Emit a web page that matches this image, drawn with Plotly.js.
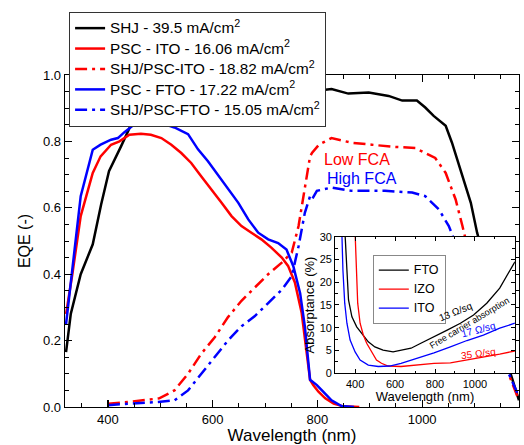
<!DOCTYPE html>
<html>
<head>
<meta charset="utf-8">
<script src="https://cdn.plot.ly/plotly-3.0.1.min.js"></script>
<style>html,body{margin:0;padding:0;background:#fff;}#chart{width:524px;height:445px;}</style>
</head>
<body>
<div id="chart"></div>
<script>
// Main EQE data
const shjX = [320,329,348,371,387,402,425,447,470,500,550,600,650,700,750,811,827,859,898,936,962,990,1006,1022,1045,1057,1073,1093,1105,1130,1150,1165,1185];
const shjY = [0.165,0.28,0.40,0.49,0.61,0.71,0.785,0.86,0.90,0.925,0.94,0.945,0.95,0.95,0.955,0.955,0.958,0.944,0.947,0.937,0.923,0.923,0.902,0.877,0.847,0.796,0.716,0.615,0.525,0.38,0.25,0.12,0.02];

const pscItoX = [320,332,348,371,386,406,422,441,463,482,502,521,540,559,578,598,617,636,655,674,693,712,732,744,757,770,780,786,792,802,815,831,850,880];
const pscItoY = [0.28,0.40,0.575,0.705,0.755,0.79,0.80,0.82,0.823,0.82,0.81,0.79,0.765,0.735,0.695,0.655,0.615,0.575,0.545,0.525,0.505,0.48,0.45,0.425,0.375,0.283,0.162,0.082,0.066,0.046,0.026,0.01,0.002,0];

const tandemItoX = [400,438,498,527,553,578,604,629,655,680,706,732,751,764,776,786,790,803,827,865,904,942,987,1006,1025,1045,1064,1077,1090,1110,1140,1165,1185];
const tandemItoY = [0.01,0.015,0.026,0.05,0.10,0.16,0.21,0.27,0.32,0.36,0.40,0.435,0.465,0.545,0.665,0.755,0.766,0.79,0.81,0.796,0.79,0.784,0.78,0.766,0.75,0.705,0.625,0.545,0.46,0.35,0.21,0.10,0.02];

const pscFtoX = [320,332,348,371,386,406,419,431,447,466,486,502,527,553,572,591,610,629,649,668,687,706,725,741,754,767,776,786,799,811,827,846,870];
const pscFtoY = [0.25,0.42,0.635,0.775,0.79,0.805,0.81,0.827,0.847,0.857,0.86,0.855,0.842,0.822,0.776,0.74,0.70,0.66,0.615,0.565,0.525,0.505,0.494,0.474,0.424,0.343,0.243,0.082,0.066,0.046,0.02,0.003,0];

const tandemFtoX = [400,438,496,527,553,578,604,629,655,680,706,732,751,764,776,786,790,799,827,865,929,981,1006,1032,1051,1070,1100,1130,1160,1185];
const tandemFtoY = [0.005,0.01,0.015,0.02,0.05,0.10,0.15,0.20,0.243,0.273,0.313,0.353,0.394,0.484,0.585,0.635,0.626,0.651,0.661,0.651,0.651,0.646,0.635,0.595,0.545,0.47,0.35,0.24,0.12,0.03];

// Inset absorptance data
const ftoX = [348,351,359,367,384,408,441,466,499,540,590,631,680,729,795,861,927,993,1059,1124,1200];
const ftoY = [32,30,22.7,16.1,12.4,10.2,8.4,6.9,5.8,5.1,4.7,5.0,5.5,6.6,8.0,9.5,11.0,12.8,15.4,18.7,24.5];
const izoX = [399,405,413,425,441,458,482,507,532,565,630,713,795,877,960,1042,1124,1200];
const izoY = [32,22.7,15.4,11,8.4,6.6,4.7,2.9,2.2,1.6,1.5,1.8,2.2,2.3,2.9,3.5,4.2,4.9];
const itoX = [333,339,348,359,375,400,425,466,516,573,630,713,795,877,960,1042,1124,1200];
const itoY = [32,22.7,15.4,11,7.3,4.7,2.9,1.8,1.5,1.6,2.2,3.3,4.5,5.8,7.2,8.4,9.9,11];

const legendNames = [
  'SHJ - 39.5 mA/cm<sup>2</sup>',
  'PSC - ITO - 16.06 mA/cm<sup>2</sup>',
  'SHJ/PSC-ITO - 18.82 mA/cm<sup>2</sup>',
  'PSC - FTO - 17.22 mA/cm<sup>2</sup>',
  'SHJ/PSC-FTO - 15.05 mA/cm<sup>2</sup>'
];
const insetNames = ['FTO','IZO','ITO'];

const big = s => '<span style="font-size:15.3px">' + s + '</span>';
const DD = '12px,5px,3px,5px';
const traces = [
  {x: shjX, y: shjY, name: big(legendNames[0]), line:{color:'#000000', width:2.5}},
  {x: pscItoX, y: pscItoY, name: big(legendNames[1]), line:{color:'#ff0000', width:2.5}},
  {x: tandemItoX, y: tandemItoY, name: big(legendNames[2]), line:{color:'#ff0000', width:2.5, dash:DD}},
  {x: pscFtoX, y: pscFtoY, name: big(legendNames[3]), line:{color:'#0000ff', width:2.5}},
  {x: tandemFtoX, y: tandemFtoY, name: big(legendNames[4]), line:{color:'#0000ff', width:2.5, dash:DD}},
  {x: ftoX, y: ftoY, name: insetNames[0], xaxis:'x2', yaxis:'y2', legend:'legend2', line:{color:'#000000', width:1.3}},
  {x: izoX, y: izoY, name: insetNames[1], xaxis:'x2', yaxis:'y2', legend:'legend2', line:{color:'#ff0000', width:1.3}},
  {x: itoX, y: itoY, name: insetNames[2], xaxis:'x2', yaxis:'y2', legend:'legend2', line:{color:'#0000ff', width:1.3}}
].map(t => Object.assign({type:'scatter', mode:'lines'}, t));

const F = '"Liberation Sans", Arial, sans-serif';
const axisCommon = {showline:true, linecolor:'#000', linewidth:1.3, mirror:'ticks', ticks:'inside', tickcolor:'#000', showgrid:false, zeroline:false};

const layout = {
  width:524, height:445,
  margin:{l:65, r:5, t:75, b:38},
  paper_bgcolor:'#fff', plot_bgcolor:'#fff',
  font:{family:F, color:'#000'},
  showlegend:true,
  xaxis: Object.assign({}, axisCommon, {
    range:[318,1185], tickvals:[400,600,800,1000], ticktext:['400','600','800','1000'],
    ticklen:7, tickwidth:1.2,
    minor:{dtick:50, tick0:0, ticks:'inside', ticklen:4, tickcolor:'#000', tickwidth:1},
    tickfont:{size:13, family:F},
    title:{text:'Wavelength (nm)', font:{size:17, family:F}, standoff:2}
  }),
  yaxis: Object.assign({}, axisCommon, {
    range:[0,1.0], dtick:0.2, tickformat:'.1f', ticklen:7, tickwidth:1.2,
    minor:{dtick:0.05, ticks:'inside', ticklen:4, tickcolor:'#000', tickwidth:1},
    tickfont:{size:13, family:F},
    title:{text:'EQE (-)', font:{size:16, family:F}, standoff:8}
  }),
  xaxis2: Object.assign({}, axisCommon, {
    domain:[0.595,0.991], anchor:'y2', range:[300,1200], dtick:200, linewidth:1,
    ticklen:4, tickwidth:1,
    minor:{dtick:100, ticks:'inside', ticklen:2.5, tickcolor:'#000'},
    tickfont:{size:11, family:F},
    title:{text:'Wavelength (nm)', font:{size:13, family:F}, standoff:1}
  }),
  yaxis2: Object.assign({}, axisCommon, {
    domain:[0.1015,0.513], anchor:'x2', range:[0,30], dtick:5, linewidth:1,
    ticklen:4, tickwidth:1,
    minor:{dtick:2.5, ticks:'inside', ticklen:2.5, tickcolor:'#000'},
    tickfont:{size:11, family:F},
    title:{text:'Absorptance (%)', font:{size:13, family:F}, standoff:2}
  }),
  legend:{
    x:0.009, xanchor:'left', y:1.19, yanchor:'top',
    bgcolor:'#fff', bordercolor:'#333', borderwidth:1,
    font:{size:13.4, family:F}, tracegroupgap:0, itemwidth:30
  },
  legend2:{
    x:0.678, xanchor:'left', y:0.459, yanchor:'top',
    bgcolor:'#fff', bordercolor:'#888', borderwidth:1,
    font:{size:10, family:F}, tracegroupgap:0, itemwidth:30
  },
  annotations:[
    {xref:'x', yref:'y', x:876, y:0.747, text:'Low FCA', showarrow:false, font:{size:16, color:'#ff0000', family:F}},
    {xref:'x', yref:'y', x:886, y:0.687, text:'High FCA', showarrow:false, font:{size:16, color:'#0000ff', family:F}},
    {xref:'x2', yref:'y2', x:905, y:13.6, text:'13 Ω/sq', showarrow:false, textangle:-22, font:{size:10, color:'#000', family:F}},
    {xref:'x2', yref:'y2', x:972, y:11.0, text:'Free carrier absorption', showarrow:false, textangle:-31, font:{size:9, color:'#000', family:F}},
    {xref:'x2', yref:'y2', x:1020, y:9.6, text:'17 Ω/sq', showarrow:false, textangle:-15, font:{size:10, color:'#0000ff', family:F}},
    {xref:'x2', yref:'y2', x:1020, y:4.4, text:'35 Ω/sq', showarrow:false, textangle:-7, font:{size:10, color:'#ff0000', family:F}}
  ]
};
// inset legend text slightly larger than the row-height font
traces.slice(5).forEach(t => { t.name = '<span style="font-size:12.5px">' + t.name + '</span>'; });

Plotly.newPlot('chart', traces, layout, {displayModeBar:false, staticPlot:true});
</script>
</body>
</html>
